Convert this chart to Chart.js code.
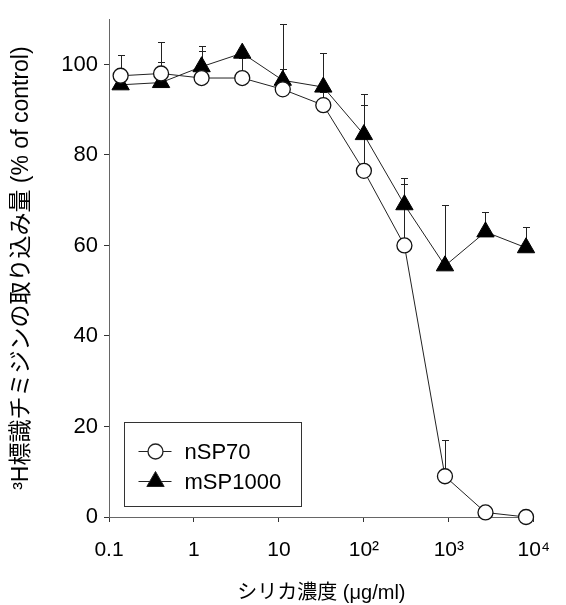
<!DOCTYPE html>
<html lang="ja">
<head>
<meta charset="utf-8">
<title>Thymidin-Einbau</title>
<script src="https://cdn.jsdelivr.net/npm/chart.js@4.4.1/dist/chart.umd.min.js"></script>
<style>
body { margin: 0; background: #fff; }
</style>
</head>
<body>
<canvas id="myChart" width="566" height="605"></canvas>
<script>
"use strict"
// Werte
const konzentration = [0.137, 0.41, 1.23, 3.7, 11.1, 33.3, 100, 300, 900, 2700, 8100] // µg/ml
const nSP70 = [97.5, 98, 97, 97, 94.5, 91, 76.5, 60, 9, 1, 0]
const nSP70Fehler = [4.5, 7, 6, 4.5, 4.5, 3, 14.5, 13.5, 8, 0, 0]
const mSP1000 = [95.5, 96, 99.5, 102.5, 96.5, 95, 84.5, 69, 55.5, 63, 59.5]
const mSP1000Fehler = [1.5, 4.5, 4.5, 1, 12.5, 7.5, 9, 6, 13.5, 4.5, 4.5]
const xTicks = [0.1, 1, 10, 100, 1000, 10000]
const xTickLabels = ["0.1", "1", "10", "10²", "10³", "10⁴"]
const yTicks = [0, 20, 40, 60, 80, 100]

const schrift = "'Liberation Sans', Arial, 'Noto Sans CJK JP', sans-serif"
Chart.defaults.font.family = schrift
Chart.defaults.color = '#000'

function punkte(werte) {
    return konzentration.map((k, i) => ({ x: k, y: werte[i] }))
}

// Fehlerbalken nur nach oben (wie im Original)
const fehlerBalken = {
    id: 'fehlerBalken',
    beforeDatasetsDraw(chart) {
        const ctx = chart.ctx
        const sx = chart.scales.x
        const sy = chart.scales.y
        ctx.save()
        ctx.strokeStyle = '#222'
        ctx.lineWidth = 1
        chart.data.datasets.forEach(ds => {
            ds.data.forEach((p, i) => {
                const err = ds.fehler[i]
                if (!err) return
                const px = Math.round(sx.getPixelForValue(p.x)) + 0.5
                const y0 = sy.getPixelForValue(p.y)
                const y1 = Math.round(sy.getPixelForValue(p.y + err)) + 0.5
                ctx.beginPath()
                ctx.moveTo(px, y0)
                ctx.lineTo(px, y1)
                ctx.moveTo(px - 3.5, y1)
                ctx.lineTo(px + 3.5, y1)
                ctx.stroke()
            })
        })
        ctx.restore()
    }
}

// Legende im Diagramm unten links
const legende = {
    id: 'legende',
    afterDraw(chart) {
        const ctx = chart.ctx
        const a = chart.chartArea
        const bx = Math.round(a.left) + 15.5
        const by = Math.round(a.bottom) - 94.5
        ctx.save()
        ctx.strokeStyle = '#333'
        ctx.lineWidth = 1
        ctx.strokeRect(bx, by, 177, 84)
        ctx.font = '22px ' + schrift
        ctx.textBaseline = 'middle'
        ctx.fillStyle = '#000'
        chart.data.datasets.forEach((ds, i) => {
            const yy = by + 29 + i * 30
            const mx = bx + 31
            ctx.strokeStyle = '#222'
            ctx.beginPath()
            ctx.moveTo(bx + 14, yy)
            ctx.lineTo(bx + 47, yy)
            ctx.stroke()
            ctx.beginPath()
            if (ds.pointStyle === 'triangle') {
                const r = ds.pointRadius
                ctx.moveTo(mx, yy - r)
                ctx.lineTo(mx + r * 0.866, yy + r / 2)
                ctx.lineTo(mx - r * 0.866, yy + r / 2)
                ctx.closePath()
            } else {
                ctx.arc(mx, yy, ds.pointRadius, 0, Math.PI * 2)
            }
            ctx.fillStyle = ds.pointBackgroundColor
            ctx.fill()
            ctx.lineWidth = ds.pointBorderWidth
            ctx.stroke()
            ctx.lineWidth = 1
            ctx.fillStyle = '#000'
            ctx.fillText(ds.label, bx + 60, yy + 1)
        })
        ctx.restore()
    }
}

const config = {
    type: 'line',
    data: {
        datasets: [{
            label: 'nSP70',
            data: punkte(nSP70),
            fehler: nSP70Fehler,
            borderColor: '#222',
            borderWidth: 1,
            pointStyle: 'circle',
            pointRadius: 7.5,
            pointBackgroundColor: '#fff',
            pointBorderColor: '#111',
            pointBorderWidth: 1.3,
            clip: false,
            order: 0
        }, {
            label: 'mSP1000',
            data: punkte(mSP1000),
            fehler: mSP1000Fehler,
            borderColor: '#222',
            borderWidth: 1,
            pointStyle: 'triangle',
            pointRadius: 10,
            pointBackgroundColor: '#000',
            pointBorderColor: '#000',
            pointBorderWidth: 1,
            clip: false,
            order: 1
        }]
    },
    options: {
        responsive: false,
        animation: false,
        layout: { padding: { top: 14, right: 15, left: 0, bottom: 0 } },
        plugins: {
            legend: { display: false },
            tooltip: { enabled: false }
        },
        scales: {
            x: {
                type: 'logarithmic',
                min: 0.1,
                max: 10000,
                afterBuildTicks: s => { s.ticks = xTicks.map(v => ({ value: v })) },
                afterFit: s => { s.height = 88 },
                ticks: {
                    callback: (v, i) => xTickLabels[i],
                    font: { size: 21 },
                    padding: 16,
                    maxRotation: 0,
                    autoSkip: false
                },
                grid: { drawOnChartArea: false, tickLength: 5, tickColor: '#333' },
                border: { color: '#666', dash: [2, 1] },
                title: {
                    display: true,
                    text: 'シリカ濃度 (μg/ml)',
                    font: { size: 20 },
                    padding: { top: 2, bottom: 0 }
                }
            },
            y: {
                min: 0,
                max: 110,
                afterBuildTicks: s => { s.ticks = yTicks.map(v => ({ value: v })) },
                afterFit: s => { s.width = 109 },
                ticks: { font: { size: 22 }, padding: 6 },
                grid: { drawOnChartArea: false, tickLength: 5, tickColor: '#333' },
                border: { color: '#666', dash: [2, 1] },
                title: {
                    display: true,
                    text: '³H標識チミジンの取り込み量 (% of control)',
                    font: { size: 23 },
                    padding: { top: 8, bottom: 0 }
                }
            }
        }
    },
    plugins: [fehlerBalken, legende]
}

new Chart(document.getElementById('myChart'), config)
</script>
</body>
</html>
